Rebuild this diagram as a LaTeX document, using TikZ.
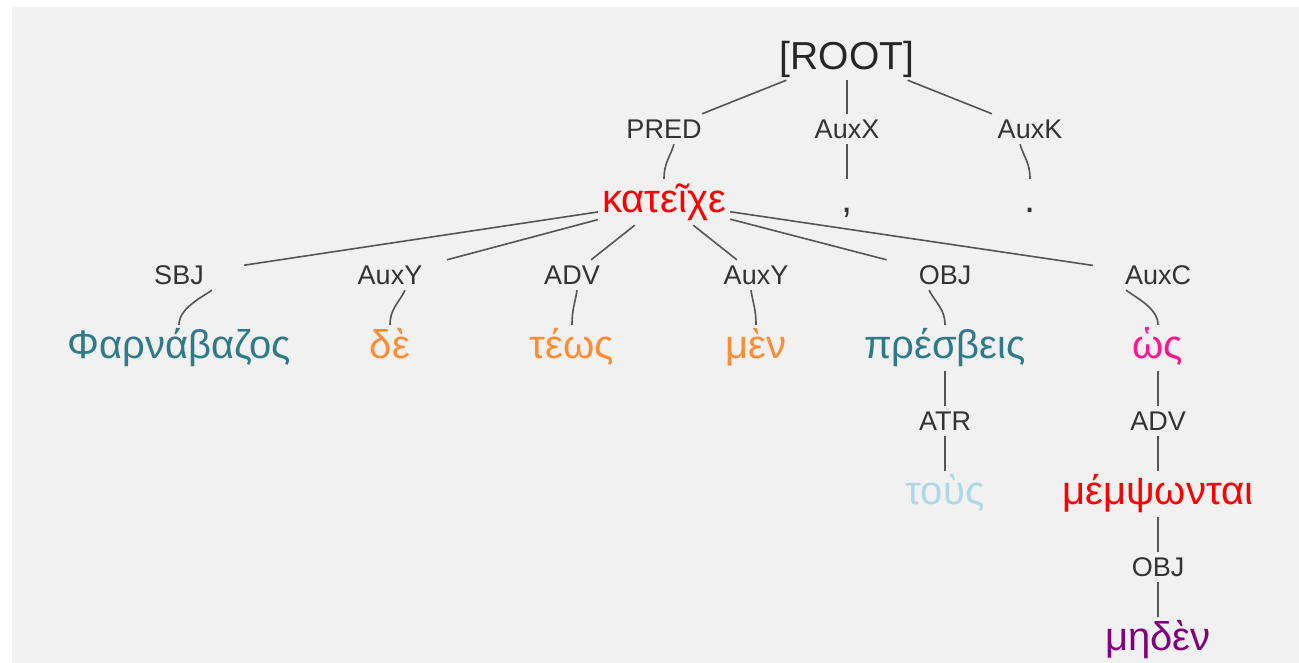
\documentclass[tikz,border=0pt]{standalone}
\usepackage{fontspec}
\setmainfont{Liberation Sans}
\usetikzlibrary{trees}

\definecolor{bggray}{HTML}{F1F1F1}
\definecolor{labelgray}{HTML}{333333}
\definecolor{edgegray}{HTML}{555555}
\definecolor{formteal}{HTML}{2E7A8A}
\definecolor{formorange}{HTML}{FF8C33}
\definecolor{formpink}{HTML}{FF1493}
\definecolor{formblue}{HTML}{ADD8E6}
\definecolor{formpurple}{HTML}{800080}

\tikzset{
  rootnode/.style={font=\fontsize{39}{44}\selectfont, text=black!85, inner sep=0pt,
    text height=28pt, text depth=0pt, minimum height=48pt},
  deprel/.style={font=\fontsize{27}{32}\selectfont, text=labelgray, inner sep=0pt,
    text height=19.5pt, text depth=0pt, minimum height=30pt, minimum width=130pt},
  form/.style={font=\fontsize{40}{44}\selectfont, inner xsep=4pt, inner ysep=0pt,
    text height=20.8pt, text depth=0pt, minimum height=46pt},
  straight/.style={edge from parent path={(\tikzparentnode) -- (\tikzchildnode)}},
  arc/.style={edge from parent path={([xshift=#1pt]\tikzparentnode.south)
    .. controls +({-90-1.7*(#1)}:14pt) and +(0,16pt) .. (\tikzchildnode.north)}},
  arc/.default=0
}

\begin{document}
\begin{tikzpicture}
[-,level distance=73pt,
 edge from parent/.style={draw=edgegray, line width=1.6pt},
 level 1/.style={straight}, level 2/.style={arc},
 level 3/.style={straight}, level 4/.style={arc},
 level 5/.style={straight}, level 6/.style={arc},
 level 7/.style={straight}, level 8/.style={arc}]
\useasboundingbox (0pt,0pt) rectangle (1299pt,-663pt);
\fill[white] (0pt,0pt) rectangle (1299pt,-663pt);
\fill[bggray] (12pt,-7pt) rectangle (1299pt,-663pt);
\node[rootnode] (root) at (847pt,-56pt) {[ROOT]}
  [sibling distance=183pt]
  child {node[deprel] (pred) {PRED}
    child[arc=10] {node[form, text=red] (kateixe) {κατεῖχε}
      [sibling distance=192pt]
      child[xshift=-5pt] {node[deprel] (sbj) {SBJ}
        child[arc=33] {node[form, text=formteal] (pharnabazos) {Φαρνάβαζος}}
      }
      child[xshift=14pt] {node[deprel] (auxy1) {AuxY}
        child[arc=15] {node[form, text=formorange] (de) {δὲ}}
      }
      child[xshift=4pt] {node[deprel] (adv1) {ADV}
        child[arc=5] {node[form, text=formorange] (teos) {τέως}}
      }
      child[xshift=-4pt] {node[deprel] (auxy2) {AuxY}
        child[arc=-5] {node[form, text=formorange] (men) {μὲν}}
      }
      child[xshift=-7pt] {node[deprel] (obj1) {OBJ}
        child[arc=-16] {node[form, text=formteal] (presbeis) {πρέσβεις}
          child {node[deprel] (atr) {ATR}
            child {node[form, text=formblue] (tous) {τοὺς}}
          }
        }
      }
      child[xshift=14pt] {node[deprel] (auxc) {AuxC}
        child[arc=-32] {node[form, text=formpink] (hos) {ὡς}
          child {node[deprel] (adv2) {ADV}
            child {node[form, text=red] (memphontai) {μέμψωνται}
              child {node[deprel] (obj2) {OBJ}
                child {node[form, text=formpurple] (meden) {μηδὲν}}
              }
            }
          }
        }
      }
    }
  }
  child {node[deprel] (auxx) {AuxX}
    child {node[form, text=labelgray] (comma) {,}}
  }
  child {node[deprel] (auxk) {AuxK}
    child[arc=-10] {node[form, text=labelgray] (period) {.}}
  };
\end{tikzpicture}
\end{document}
